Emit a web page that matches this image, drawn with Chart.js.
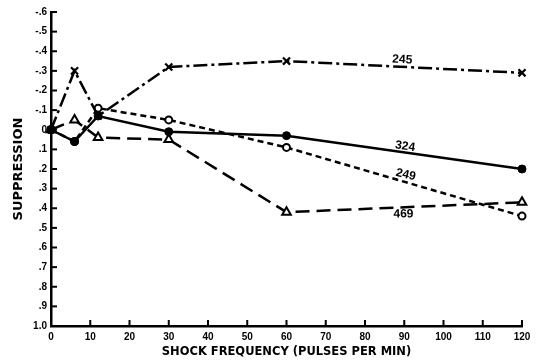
<!DOCTYPE html>
<html>
<head>
<meta charset="utf-8">
<script src="https://cdn.jsdelivr.net/npm/chart.js@4/dist/chart.umd.min.js"></script>
<style>
  html, body { margin: 0; padding: 0; background: #fff; }
  #wrap { width: 541px; height: 361px; }
</style>
</head>
<body>
<div id="wrap"><canvas id="c" width="541" height="361"></canvas></div>
<script>
// ---- data ----
const shockFreq = [0, 6, 12, 30, 60, 120];
const s245 = [0, -0.30, -0.07, -0.32, -0.35, -0.29];
const s324 = [0, 0.06, -0.07, 0.01, 0.03, 0.20];
const s249 = [0, 0.06, -0.11, -0.05, 0.09, 0.44];
const s469 = [0, -0.05, 0.04, 0.05, 0.42, 0.37];
const seriesNames = ['245', '324', '249', '469'];
const xTickLabels = ['0','10','20','30','40','50','60','70','80','90','100','110','120'];
const yTickLabels = ['-.6','-.5','-.4','-.3','-.2','-.1','0','.1','.2','.3','.4','.5','.6','.7','.8','.9','1.0'];
const xTitle = 'SHOCK FREQUENCY (PULSES PER MIN)';
const yTitle = 'SUPPRESSION';

// annotation placement for series labels (data coords + rotation)
const seriesLabelPlaces = [
  { x: 89.5, y: -0.357, rot: 3 },
  { x: 90.2, y: 0.085, rot: 8 },
  { x: 90.4, y: 0.230, rot: 13 },
  { x: 89.8, y: 0.430, rot: -1 }
];

const pts = arr => shockFreq.map((x, i) => ({ x, y: arr[i] }));

Chart.defaults.color = '#000';
Chart.defaults.font.family = '"Liberation Sans", Arial, sans-serif';

const inwardTicks = {
  id: 'inwardTicks',
  afterDraw(chart) {
    const ctx = chart.ctx;
    const xs = chart.scales.x, ys = chart.scales.y;
    ctx.save();
    ctx.strokeStyle = '#000';
    ctx.lineWidth = 2;
    xs.ticks.forEach(t => {
      const px = xs.getPixelForValue(t.value);
      ctx.beginPath();
      ctx.moveTo(px, xs.top);
      ctx.lineTo(px, xs.top - 6);
      ctx.stroke();
    });
    ys.ticks.forEach(t => {
      const py = ys.getPixelForValue(t.value);
      ctx.beginPath();
      ctx.moveTo(ys.right, py);
      ctx.lineTo(ys.right + 6, py);
      ctx.stroke();
    });
    // series labels
    ctx.fillStyle = '#000';
    ctx.font = 'bold 12px "Liberation Sans", Arial, sans-serif';
    ctx.textAlign = 'center';
    ctx.textBaseline = 'middle';
    seriesNames.forEach((n, i) => {
      const p = seriesLabelPlaces[i];
      const px = xs.getPixelForValue(p.x), py = ys.getPixelForValue(p.y);
      ctx.save();
      ctx.translate(px, py);
      ctx.rotate(p.rot * Math.PI / 180);
      ctx.fillText(n, 0, 0);
      ctx.restore();
    });
    ctx.restore();
  }
};

new Chart(document.getElementById('c'), {
  type: 'line',
  data: {
    datasets: [
      {
        label: seriesNames[0], data: pts(s245), clip: false,
        borderColor: '#000', borderWidth: 2.5, borderDash: [14, 4, 3, 4],
        pointStyle: 'crossRot', pointRadius: 5, pointBorderWidth: 2.2,
        pointBorderColor: '#000', pointBackgroundColor: '#fff', tension: 0
      },
      {
        label: seriesNames[1], data: pts(s324), clip: false,
        borderColor: '#000', borderWidth: 2.5,
        pointStyle: 'circle', pointRadius: 4, pointBorderWidth: 1,
        pointBorderColor: '#000', pointBackgroundColor: '#000', tension: 0
      },
      {
        label: seriesNames[2], data: pts(s249), clip: false,
        borderColor: '#000', borderWidth: 2.5, borderDash: [6, 4],
        pointStyle: 'circle', pointRadius: 3.5, pointBorderWidth: 2,
        pointBorderColor: '#000', pointBackgroundColor: '#fff', tension: 0
      },
      {
        label: seriesNames[3], data: pts(s469), clip: false,
        borderColor: '#000', borderWidth: 2.5, borderDash: [14, 7],
        pointStyle: 'triangle', pointRadius: 5, pointBorderWidth: 2,
        pointBorderColor: '#000', pointBackgroundColor: '#fff', tension: 0
      }
    ]
  },
  options: {
    responsive: false,
    animation: false,
    layout: { padding: { top: 12, right: 19, left: 0, bottom: 0 } },
    plugins: { legend: { display: false }, tooltip: { enabled: false } },
    scales: {
      x: {
        type: 'linear', min: 0, max: 120,
        afterFit: s => { s.height = 35; },
        grid: { display: false, drawTicks: false },
        border: { display: true, color: '#000', width: 2.5 },
        ticks: {
          stepSize: 10, padding: 5, maxRotation: 0,
          font: { size: 10, weight: 'bold' },
          callback: v => xTickLabels[Math.round(v / 10)]
        },
        title: {
          display: true, text: xTitle,
          font: { family: '"DejaVu Sans", sans-serif', size: 11.5, weight: 'bold' },
          padding: { top: 0, bottom: 2 }
        }
      },
      y: {
        type: 'linear', min: -0.6, max: 1.0, reverse: true,
        afterFit: s => { s.width = 51; },
        grid: { display: false, drawTicks: false },
        border: { display: true, color: '#000', width: 2.5 },
        ticks: {
          stepSize: 0.1, padding: 4,
          font: { size: 10, weight: 'bold' },
          callback: v => yTickLabels[Math.round((v + 0.6) * 10)]
        },
        title: {
          display: true, text: yTitle,
          font: { family: '"DejaVu Sans", sans-serif', size: 13, weight: 'bold' },
          padding: { top: 11, bottom: 0 }
        }
      }
    }
  },
  plugins: [inwardTicks]
});
</script>
</body>
</html>
